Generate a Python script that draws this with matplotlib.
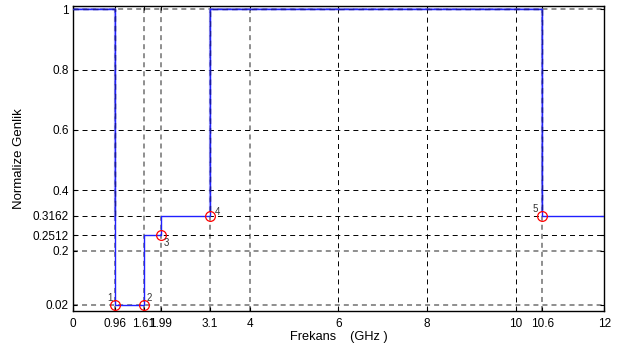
import matplotlib
matplotlib.use("Agg")
import matplotlib.pyplot as plt

plt.rcParams['font.family'] = ['Liberation Sans', 'DejaVu Sans']
plt.rcParams['lines.scale_dashes'] = False

# response (step) and its breakpoints
step_x = [0, 0.96, 0.96, 1.61, 1.61, 1.99, 1.99, 3.1, 3.1, 10.6, 10.6, 12]
step_y = [1, 1, 0.02, 0.02, 0.2512, 0.2512, 0.3162, 0.3162, 1, 1, 0.3162, 0.3162]

# upper part shown with dashed overlay
upper_x1 = [0, 0.96, 0.96]
upper_y1 = [1, 1, 0.3]
upper_x2 = [3.1, 3.1, 10.6, 10.6]
upper_y2 = [0.33, 1, 1, 0.33]

pt_x = [0.96, 1.61, 1.99, 3.1, 10.6]
pt_y = [0.02, 0.02, 0.2512, 0.3162, 0.3162]
pt_lbl = ['1', '2', '3', '4', '5']
lbl_off = [(-0.18, 0.012), (0.06, 0.012), (0.06, -0.037), (0.1, 0.003), (-0.22, 0.012)]

xticks = [0, 0.96, 1.61, 1.99, 3.1, 4, 6, 8, 10, 10.6, 12]
xtick_lbl = ['0', '0.96', '1.61', '1.99', '3.1', '4', '6', '8', '10', '10.6', '12']
yticks = [0.02, 0.2, 0.2512, 0.3162, 0.4, 0.6, 0.8, 1]
ytick_lbl = ['0.02', '0.2', '0.2512', '0.3162', '0.4', '0.6', '0.8', '1']

grey_x = [0.96, 1.61, 1.99, 3.1, 4, 10.6]
black_x = [6, 8, 10]
grey_y = [0.02, 0.2, 1]
black_y = [0.2512, 0.3162, 0.4, 0.6, 0.8]

fig = plt.figure(figsize=(6.19, 3.45), dpi=100)
ax = fig.add_axes([0.1175, 0.0986, 0.8585, 0.8844])

for v in grey_x:
    ax.axvline(v, color='#707070', lw=1.1, dashes=(3.6, 2.9), zorder=1)
for v in black_x:
    ax.axvline(v, color='black', lw=0.7, dashes=(3.6, 2.9), zorder=1)
for v in grey_y:
    ax.axhline(v, color='#707070', lw=1.1, dashes=(3.6, 2.9), zorder=1)
for v in black_y:
    ax.axhline(v, color='black', lw=0.7, dashes=(3.6, 2.9), zorder=1)

ax.plot(step_x, step_y, color='#2020ff', lw=1.0, zorder=3)
ax.plot(upper_x1, upper_y1, color='#8080ff', lw=1.6, alpha=0.6, zorder=2)
ax.plot(upper_x2, upper_y2, color='#8080ff', lw=1.6, alpha=0.6, zorder=2)
ax.plot(upper_x1, upper_y1, color='#1a1a9a', lw=1.0, dashes=(4, 3), zorder=4)
ax.plot(upper_x2, upper_y2, color='#1a1a9a', lw=1.0, dashes=(4, 3), zorder=4)

ax.plot(pt_x, pt_y, 'o', mfc='none', mec='red', ms=7, mew=0.9, zorder=5)
for x, y, s, (dx, dy) in zip(pt_x, pt_y, pt_lbl, lbl_off):
    ax.text(x + dx, y + dy, s, fontsize=7, color='#333333', zorder=6)

ax.set_xlim(0, 12)
ax.set_ylim(0, 1.011)
ax.set_xticks(xticks)
ax.set_xticklabels(xtick_lbl)
ax.set_yticks(yticks)
ax.set_yticklabels(ytick_lbl)
ax.tick_params(direction='in', length=3, labelsize=8.5, top=True, right=True, pad=3)
ax.tick_params(axis='x', pad=5)
for sp in ax.spines.values():
    sp.set_linewidth(1.0)

ax.set_xlabel('Frekans    (GHz )', fontsize=9.2, labelpad=1)
ax.set_ylabel('Normalize Genlik', fontsize=9.5, labelpad=5)

plt.savefig('out.png', dpi=100)
